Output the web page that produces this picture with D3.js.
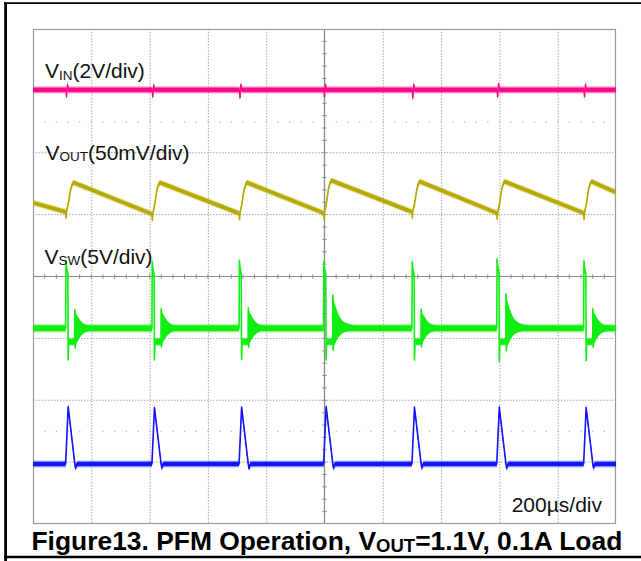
<!DOCTYPE html>
<html>
<head>
<meta charset="utf-8">
<script src="https://cdn.jsdelivr.net/npm/d3@7"></script>
<style>
  html, body { margin: 0; padding: 0; background: #fff; }
  svg { display: block; font-family: "Liberation Sans", Arial, sans-serif; }
</style>
</head>
<body>
<svg id="scope" width="641" height="561"></svg>
<script>
// ---- Time base: 200 µs/div, 10 divisions ----
const timeSpan = [0, 2000];               // µs
const timeLabel = "200µs/div";
const gridDivsX = [1, 2, 3, 4, 6, 7, 8, 9];
const gridDivsY = [-3, -2, -1, 1, 2, 3];
const dottedDivsY = [-2.5, 2.5];

// High-side turn-on instants of each PFM burst (µs)
const pulseTimes = [112, 408, 707, 997, 1300, 1591, 1889];

// ---- V_IN, 2 V/div ----
const vinLevel = 5.03;
const vinDip  = [4.81, 4.81, 4.78, 4.81, 4.76, 4.81, 4.81];
const vinBump = [5.20, 5.18, 5.20, 5.20, 5.20, 5.22, 5.20];

// ---- V_OUT ripple, mV above 1.1 V, 50 mV/div ----
const voutStart  = 9.6;
const voutValley = [2.3, 0.5, 1.0, 1.3, 2.3, 1.3, 1.3];
const voutPeak   = [25.8, 25.8, 25.8, 27.4, 26.6, 26.6, 26.6];
const voutEnd    = 18.0;
const voutRiseT    = [8.6, 17, 23, 28];       // µs after turn-on
const voutRiseShare = [0.25, 0.76, 0.96, 1];  // share of valley-to-peak step

// ---- V_SW, 5 V/div ----
const swIdle  = 0.82;
const swTop   = [6.28, 6.20, 6.28, 6.20, 6.18, 6.40, 6.25];
const swUnder = [-1.75, -1.75, -1.70, -1.75, -1.75, -1.85, -1.80];
const swLow   = -0.27;
const swRingTop    = [2.30, 2.38, 2.45, 3.50, 2.35, 3.60, 2.38];
const swRingBottom = [-0.78, -0.70, -0.70, -0.94, -0.67, -1.00, -0.72];
const ringT     = [0, 3.4, 10.3, 20.6, 31, 51.5, 75.5];    // µs after ring start
const ringShare = [1, 0.85, 0.64, 0.40, 0.25, 0.14, 0.08]; // envelope decay

// ---- Inductor current, mA, 500 mA/div ----
const ilBase  = -15;
const ilPeak  = [448, 440, 443, 448, 443, 443, 440];
const ilUnder = [-48, -45, -50, -48, -45, -48, -45];

// ---- Channel settings ----
const channels = {
  vin:  { perDiv: 2,   zeroDiv: 0.5, color: "#ff0a84", band: 2.4 },
  vout: { perDiv: 50,  zeroDiv: 1,   color: "#b4aa00", band: 2.1 },
  vsw:  { perDiv: 5,   zeroDiv: -1,  color: "#12ee12", band: 3.0 },
  il:   { perDiv: 500, zeroDiv: -3,  color: "#1414ff", band: 2.2 }
};

const W = 641, H = 561;
const plot = { left: 33, right: 616, top: 29, bottom: 524 };

const svg = d3.select("#scope");
const x = d3.scaleLinear().domain(timeSpan).range([plot.left, plot.right]);
const yDiv = d3.scaleLinear().domain([-4, 4]).range([plot.bottom, plot.top]);
const xDiv = d3.scaleLinear().domain([0, 10]).range([plot.left, plot.right]);

// ---- Outer page frame ----
svg.append("rect").attr("x", 0).attr("y", 0).attr("width", W).attr("height", H).attr("fill", "#fff");
svg.append("line").attr("x1", 4).attr("x2", W).attr("y1", 3.2).attr("y2", 3.2)
  .attr("stroke", "#000").attr("stroke-width", 1.8);
svg.append("line").attr("x1", 5.6).attr("x2", 5.6).attr("y1", 2.3).attr("y2", H)
  .attr("stroke", "#000").attr("stroke-width", 2.8);
svg.append("line").attr("x1", 4).attr("x2", W).attr("y1", 557).attr("y2", 557)
  .attr("stroke", "#000").attr("stroke-width", 2.6);

// ---- Graticule ----
const grid = svg.append("g");
grid.selectAll("line.gx").data(gridDivsX).join("line")
  .attr("x1", d => xDiv(d) + 0.5).attr("x2", d => xDiv(d) + 0.5)
  .attr("y1", plot.top).attr("y2", plot.bottom)
  .attr("stroke", "#a9a9a9").attr("stroke-width", 1).attr("stroke-dasharray", "1.5,1.5");
grid.selectAll("line.gy").data(gridDivsY).join("line")
  .attr("x1", plot.left).attr("x2", plot.right)
  .attr("y1", d => yDiv(d)).attr("y2", d => yDiv(d))
  .attr("stroke", "#a9a9a9").attr("stroke-width", 1).attr("stroke-dasharray", "1.5,1.5");
// sparse half-division dots
const fifths = d3.range(0, 50).map(i => i / 5);
dottedDivsY.forEach(dv => {
  grid.selectAll(null).data(fifths.filter(f => f > 0)).join("rect")
    .attr("x", d => xDiv(d) - 0.5).attr("y", yDiv(dv) - 0.5)
    .attr("width", 1.2).attr("height", 1.2).attr("fill", "#b0b0b0");
});
// centre cross with minor ticks
grid.append("line").attr("x1", xDiv(5)).attr("x2", xDiv(5))
  .attr("y1", plot.top).attr("y2", plot.bottom).attr("stroke", "#8c8c8c").attr("stroke-width", 1.3);
grid.append("line").attr("x1", plot.left).attr("x2", plot.right)
  .attr("y1", yDiv(0)).attr("y2", yDiv(0)).attr("stroke", "#8c8c8c").attr("stroke-width", 1.2);
const minorY = d3.range(-20, 21).map(i => i / 5).filter(d => d > -4 && d < 4);
grid.selectAll("line.ty").data(minorY).join("line")
  .attr("x1", xDiv(5) - 2.2).attr("x2", xDiv(5) + 2.2)
  .attr("y1", d => yDiv(d)).attr("y2", d => yDiv(d))
  .attr("stroke", "#8c8c8c").attr("stroke-width", 1);
grid.selectAll("line.tx").data(fifths.filter(f => f > 0)).join("line")
  .attr("x1", d => xDiv(d)).attr("x2", d => xDiv(d))
  .attr("y1", yDiv(0) - 2.2).attr("y2", yDiv(0) + 2.2)
  .attr("stroke", "#8c8c8c").attr("stroke-width", 1);
grid.append("rect").attr("x", plot.left + 0.5).attr("y", plot.top + 0.5)
  .attr("width", plot.right - plot.left - 1).attr("height", plot.bottom - plot.top - 1)
  .attr("fill", "none").attr("stroke", "#9a9a9a").attr("stroke-width", 1.2);

// ---- Waveform point lists (time µs, value in channel units) ----
const vinPts = [[timeSpan[0], vinLevel]];
pulseTimes.forEach((t0, i) => {
  vinPts.push([t0 + 1.5, vinLevel], [t0 + 3, vinDip[i]], [t0 + 4.5, vinLevel],
              [t0 + 6.5, vinBump[i]], [t0 + 8.5, vinLevel]);
});
vinPts.push([timeSpan[1], vinLevel]);

const voutPts = [[timeSpan[0], voutStart]];
pulseTimes.forEach((t0, i) => {
  const v = voutValley[i], p = voutPeak[i];
  voutPts.push([t0, v], [t0 + 1.5, v - 5], [t0 + 3, v + 0.5]);
  voutRiseT.forEach((dt, k) => voutPts.push([t0 + dt, v + voutRiseShare[k] * (p - v)]));
});
voutPts.push([timeSpan[1], voutEnd]);

const swPts = [[timeSpan[0], swIdle]];
const ringBands = [];
pulseTimes.forEach((t0, i) => {
  swPts.push([t0, swIdle], [t0 + 1, swTop[i]], [t0 + 4, swTop[i] - 0.8], [t0 + 7.5, swTop[i] - 1.0],
             [t0 + 8.6, swUnder[i]], [t0 + 10.5, swLow], [t0 + 31, swLow],
             [t0 + 31.6, swRingTop[i]], [t0 + 33, swRingBottom[i]], [t0 + 36, swIdle]);
  const start = t0 + 31.5;
  ringBands.push(ringT.map((dt, k) => ({
    t: start + dt,
    hi: swIdle + ringShare[k] * (swRingTop[i] - swIdle),
    lo: swIdle - ringShare[k] * (swIdle - swRingBottom[i])
  })));
});
swPts.push([timeSpan[1], swIdle]);

const ilPts = [[timeSpan[0], ilBase]];
pulseTimes.forEach((t0, i) => {
  ilPts.push([t0, ilBase], [t0 + 8.6, ilPeak[i]], [t0 + 31.5, ilBase],
             [t0 + 34, ilUnder[i]], [t0 + 39, ilBase]);
});
ilPts.push([timeSpan[1], ilBase]);

// ---- Trace drawing ----
function yOf(ch, v) { return yDiv(ch.zeroDiv + v / ch.perDiv); }

function drawTrace(ch, pts) {
  const g = svg.append("g");
  const halo = d3.area().x(d => x(d[0]))
    .y0(d => yOf(ch, d[1]) - ch.band - 1.2).y1(d => yOf(ch, d[1]) + ch.band + 1.2);
  const core = d3.area().x(d => x(d[0]))
    .y0(d => yOf(ch, d[1]) - ch.band).y1(d => yOf(ch, d[1]) + ch.band);
  const line = d3.line().x(d => x(d[0])).y(d => yOf(ch, d[1]));
  g.append("path").attr("d", halo(pts)).attr("fill", ch.color).attr("opacity", 0.3);
  g.append("path").attr("d", core(pts)).attr("fill", ch.color);
  g.append("path").attr("d", line(pts)).attr("fill", "none")
    .attr("stroke", ch.color).attr("stroke-width", 1.6).attr("stroke-linejoin", "round");
  return g;
}

drawTrace(channels.vin, vinPts);
drawTrace(channels.vout, voutPts);
const swG = drawTrace(channels.vsw, swPts);
const ringArea = d3.area().x(d => x(d.t))
  .y0(d => yOf(channels.vsw, d.hi)).y1(d => yOf(channels.vsw, d.lo))
  .curve(d3.curveMonotoneX);
ringBands.forEach(b => {
  swG.append("path").attr("d", ringArea(b)).attr("fill", channels.vsw.color);
});
drawTrace(channels.il, ilPts);

// ---- Channel labels ----
function chanLabel(xPos, yPos, sub, rest) {
  const t = svg.append("text").attr("x", xPos).attr("y", yPos)
    .attr("font-size", 21).attr("fill", "#111");
  t.append("tspan").text("V");
  t.append("tspan").attr("font-size", 13.5).attr("dy", 1.5).text(sub);
  t.append("tspan").attr("dy", -1.5).text(rest);
}
chanLabel(45, 78, "IN", "(2V/div)");
chanLabel(45.5, 159.5, "OUT", "(50mV/div)");
chanLabel(44.5, 263.5, "SW", "(5V/div)");

svg.append("text").attr("x", 602).attr("y", 511.5).attr("text-anchor", "end")
  .attr("font-size", 21).attr("fill", "#111").text(timeLabel);

// ---- Figure caption ----
const cap = svg.append("text").attr("x", 31.5).attr("y", 550)
  .attr("font-size", 26.4).attr("font-weight", "bold").attr("fill", "#000");
cap.append("tspan").text("Figure13. PFM Operation, V");
cap.append("tspan").attr("font-size", 18.5).attr("dy", 2).text("OUT");
cap.append("tspan").attr("dy", -2).text("=1.1V, 0.1A Load");
</script>
</body>
</html>
